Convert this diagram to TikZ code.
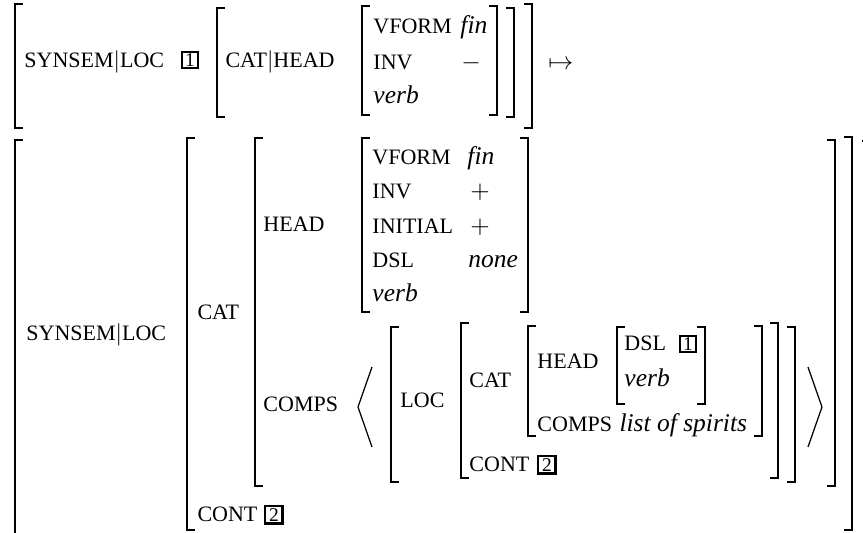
\documentclass[tikz,border=0pt]{standalone}
\usepackage{fontspec}
\setmainfont{Liberation Serif}

\tikzset{
	brk/.style={line width=0.6pt, line join=miter},
	attr/.style={anchor=base west, inner sep=0pt, font=\fontsize{8.8}{10}\selectfont},
	val/.style={anchor=base west, inner sep=0pt, font=\fontsize{10.2}{12}\selectfont\itshape},
	sym/.style={anchor=base, inner sep=0pt, font=\fontsize{10.2}{12}\selectfont},
	tag/.style={draw, line width=0.7pt, inner sep=0pt, minimum size=6.4pt, font=\fontsize{7.8}{8}\selectfont},
	boldtag/.style={tag, line width=1pt, minimum size=7pt},
}

\begin{document}
\begin{tikzpicture}[x=0.4pt, y=-0.4pt]
			\useasboundingbox (0,0) rectangle (863,533);
			\clip (0,0) rectangle (863,533);
			
			% first line
			\node[attr] (synsemA) at (24,68) {SYNSEM$|$LOC};
			\node[tag] (oneA) at (190,60) {1};
			\node[attr] (catheadA) at (225,67) {CAT$|$HEAD};
			\node[attr] (vformA) at (373,34) {VFORM};
			\node[val] (finA) at (460,34) {fin};
			\node[attr] (invA) at (373,69) {INV};
			\node[sym] (minusA) at (471,69) {$-$};
			\node[val] (verbA) at (373,104) {verb};
			\node[sym, anchor=base west] (mapsto) at (548,69) {$\mapsto$};
			
			\draw[brk] (23,4) -- (15,4) -- (15,128) -- (23,128);
			\draw[brk] (524,4) -- (532,4) -- (532,128) -- (524,128);
			\draw[brk] (225,8) -- (217,8) -- (217,117) -- (225,117);
			\draw[brk] (506,8) -- (514,8) -- (514,117) -- (506,117);
			\draw[brk] (370,6) -- (362,6) -- (362,115) -- (370,115);
			\draw[brk] (489,6) -- (497,6) -- (497,115) -- (489,115);
			
			% second line
			\node[attr] (synsemB) at (26,340) {SYNSEM$|$LOC};
			\node[attr] (catB) at (197,320) {CAT};
			\node[attr] (headB) at (263,232) {HEAD};
			\node[attr] (vformB) at (372,164) {VFORM};
			\node[val] (finB) at (467,164) {fin};
			\node[attr] (invB) at (372,199) {INV};
			\node[sym] (plusB) at (480,199) {$+$};
			\node[attr] (initialB) at (372,234) {INITIAL};
			\node[sym] (plusC) at (480,234) {$+$};
			\node[attr] (dslB) at (372,268) {DSL};
			\node[val] (noneB) at (468,268) {none};
			\node[val] (verbB) at (372,302) {verb};
			\node[attr] (compsB) at (263,412) {COMPS};
			\node[attr] (locC) at (400,408) {LOC};
			\node[attr] (catC) at (469,388) {CAT};
			\node[attr] (headC) at (537,368) {HEAD};
			\node[attr] (dslC) at (624,351) {DSL};
			\node[tag] (oneC) at (688,344) {1};
			\node[val] (verbC) at (624,387) {verb};
			\node[attr] (compsC) at (537,432) {COMPS};
			\node[val] (spirits) at (619,432) {list of spirits};
			\node[attr] (contC) at (469,472) {CONT};
			\node[boldtag] (twoC) at (547,465) {2};
			\node[attr] (contB) at (197,522) {CONT};
			\node[boldtag] (twoB) at (274,515) {2};
			
			\draw[brk] (23,140) -- (15,140) -- (15,560);
			\draw[brk] (862,141) -- (870,141) -- (870,560);
			\draw[brk] (195,138) -- (187,138) -- (187,530) -- (195,530);
			\draw[brk] (844,137) -- (852,137) -- (852,530) -- (844,530);
			\draw[brk] (263,138) -- (255,138) -- (255,486) -- (263,486);
			\draw[brk] (827,140) -- (835,140) -- (835,486) -- (827,486);
			\draw[brk] (370,138) -- (362,138) -- (362,312) -- (370,312);
			\draw[brk] (520,138) -- (528,138) -- (528,312) -- (520,312);
			\draw[brk, line width=0.5pt] (372,367) -- (358,407) -- (372,447);
			\draw[brk, line width=0.5pt] (808,367) -- (822,407) -- (808,447);
			\draw[brk] (399,327) -- (391,327) -- (391,482) -- (399,482);
			\draw[brk] (787,327) -- (795,327) -- (795,482) -- (787,482);
			\draw[brk] (469,323) -- (461,323) -- (461,478) -- (469,478);
			\draw[brk] (770,323) -- (778,323) -- (778,478) -- (770,478);
			\draw[brk] (536,326) -- (528,326) -- (528,436) -- (536,436);
			\draw[brk] (754,326) -- (762,326) -- (762,436) -- (754,436);
			\draw[brk] (625,327) -- (617,327) -- (617,404) -- (625,404);
			\draw[brk] (697,327) -- (705,327) -- (705,404) -- (697,404);
\end{tikzpicture}
\end{document}
